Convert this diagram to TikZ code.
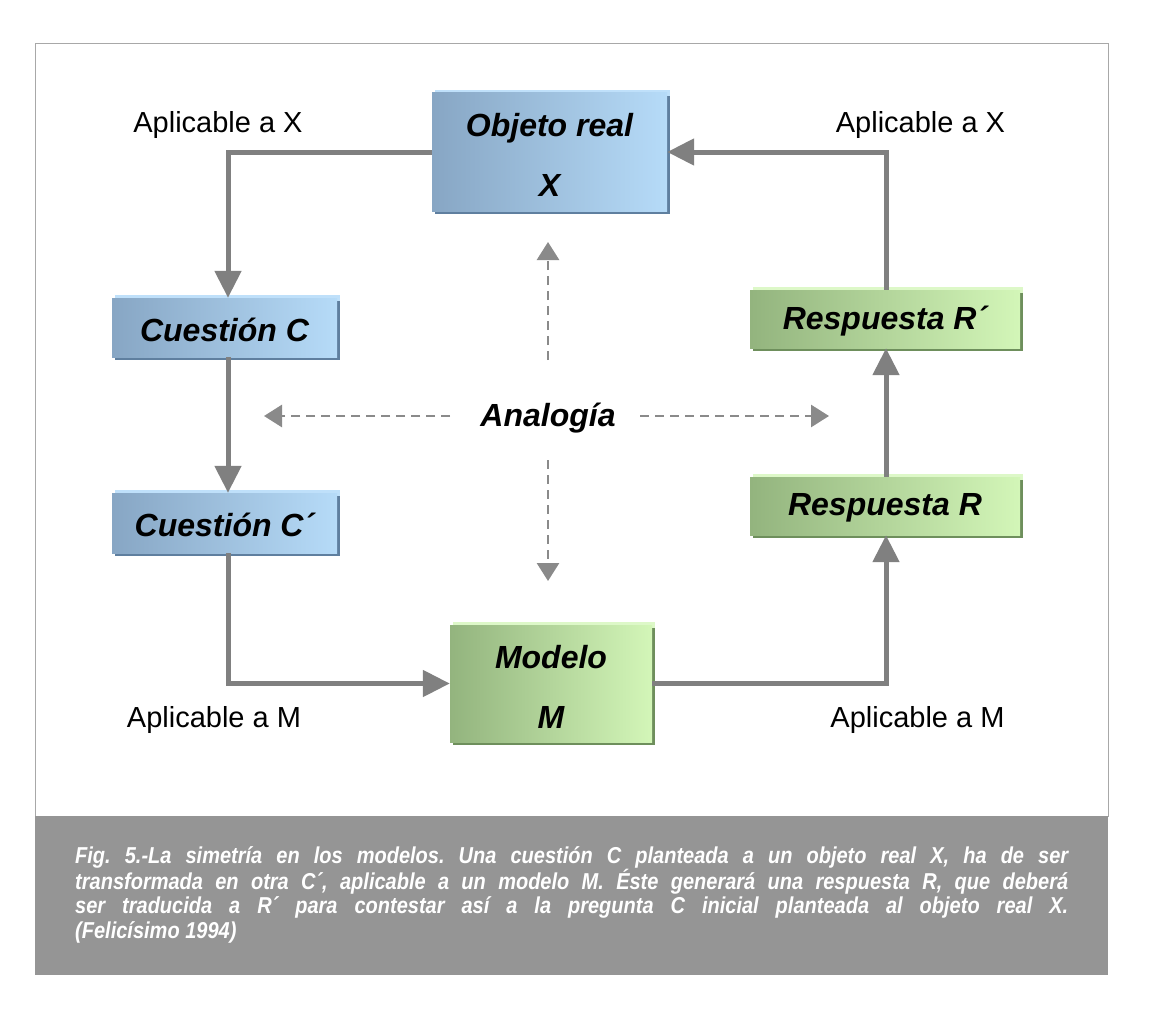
\documentclass[tikz,border=0pt]{standalone}
\usepackage{fontspec}
\setmainfont{Liberation Sans}
\newfontfamily\capfont[FakeStretch=0.87]{Liberation Sans}
\usetikzlibrary{arrows.meta,positioning,calc}
\definecolor{blueL}{HTML}{87A6C4}
\definecolor{blueR}{HTML}{B6DBF8}
\definecolor{blueHi}{HTML}{BFE0FA}
\definecolor{blueSh}{HTML}{5F7F9F}
\definecolor{greenL}{HTML}{93B47E}
\definecolor{greenR}{HTML}{D3F6B8}
\definecolor{greenHi}{HTML}{DDF8C8}
\definecolor{greenSh}{HTML}{6E8F5C}
\definecolor{conncol}{HTML}{808080}
\definecolor{dashcol}{HTML}{8A8A8A}
\definecolor{capcol}{HTML}{959595}
\definecolor{framecol}{HTML}{A8A8A8}
\tikzset{
  boxtext/.style={font=\fontsize{32}{60}\selectfont\bfseries\itshape, align=center, inner sep=0pt},
  bluebox/.style={boxtext, left color=blueL, right color=blueR},
  greenbox/.style={boxtext, left color=greenL, right color=greenR},
  conn/.style={draw=conncol, line width=5pt, -{Triangle[length=27pt,width=26pt]}},
  dconn/.style={draw=dashcol, line width=2.8pt, dash pattern=on 9pt off 6pt, -{Triangle[length=18pt,width=22pt]}},
  lbl/.style={font=\fontsize{29}{34}\selectfont, inner sep=0pt}
}
\newcommand{\bevelbox}[6]{%
  \fill[#5] ({#1-#3/2+3},{#2-#4/2-3}) rectangle ({#1+#3/2+3},{#2+#4/2-3});
  \fill[#6] ({#1-#3/2+3},{#2-#4/2+3}) rectangle ({#1+#3/2+3},{#2+#4/2+3});
}
\begin{document}
\begin{tikzpicture}[x=1pt,y=-1pt]
\useasboundingbox (0,0) rectangle (1156,1014);
\fill[white] (0,0) rectangle (1156,1014);
% frame and caption
\draw[framecol, line width=1pt] (35,44) rectangle (1108,816);
\fill[capcol] (35,816) rectangle (1108,975);
\node[anchor=north west, inner sep=0pt, text width=993pt, align=justify, text=white,
      font=\capfont\fontsize{23}{24.5}\selectfont\bfseries\itshape\frenchspacing] (cap) at (75,846)
  {Fig. 5.-La simetría en los modelos. Una cuestión C planteada a un objeto real X, ha de ser\linebreak
   transformada en otra C´, aplicable a un modelo M. Éste generará una respuesta R, que deberá\linebreak
   ser traducida a R´ para contestar así a la pregunta C inicial planteada al objeto real X.\linebreak
   (Felicísimo 1994)};

% boxes with bevel
\bevelbox{549.5}{152}{235}{118}{blueHi}{blueSh}
\node[bluebox, minimum width=235pt, minimum height=118pt] (OX) at (549.5,152) {};
\node[boxtext] (OXt) at (549.5,155) {Objeto real\\X};
\bevelbox{224.5}{327.5}{225}{59}{blueHi}{blueSh}
\node[bluebox, minimum width=225pt, minimum height=59pt] (CC) at (224.5,327.5) {};
\node[boxtext] (CCt) at (224.5,329.5) {Cuestión C};
\bevelbox{224.5}{523}{225}{60}{blueHi}{blueSh}
\node[bluebox, minimum width=225pt, minimum height=60pt] (CP) at (224.5,523) {};
\node[boxtext] (CPt) at (224.5,525) {Cuestión C´};
\bevelbox{885}{319}{270}{58}{greenHi}{greenSh}
\node[greenbox, minimum width=270pt, minimum height=58pt] (RP) at (885,319) {};
\node[boxtext] (RPt) at (885,321) {Respuesta R´};
\bevelbox{885}{506}{270}{58}{greenHi}{greenSh}
\node[greenbox, minimum width=270pt, minimum height=58pt] (RR) at (885,506) {};
\node[boxtext] (RRt) at (885,508) {Respuesta R};
\bevelbox{551}{683.5}{202}{117}{greenHi}{greenSh}
\node[greenbox, minimum width=202pt, minimum height=117pt] (MM) at (551,683.5) {};
\node[boxtext] (MMt) at (551,687) {Modelo\\M};

% connectors
\draw[conn] (OX.west) -| ([xshift=3.5pt]CC.north);
\draw[conn] ([xshift=3.5pt]CC.south) -- ([xshift=3.5pt]CP.north);
\draw[conn] ([xshift=3.5pt]CP.south) |- (MM.west);
\draw[conn] (MM.east) -| ([xshift=1pt]RR.south);
\draw[conn] ([xshift=1pt]RR.north) -- ([xshift=1pt]RP.south);
\draw[conn] ([xshift=1pt]RP.north) |- (OX.east);

% analogy
\node[boxtext] (AN) at (548,418) {Analogía};
\coordinate (aup) at (548,242);
\coordinate (adown) at (548,581);
\coordinate (aleft) at (264,416);
\coordinate (aright) at (829,416);
\coordinate (sup) at (548,360);
\coordinate (sdown) at (548,460);
\coordinate (sleft) at (450,416);
\coordinate (sright) at (640,416);
\draw[dconn] (sup) -- (aup);
\draw[dconn] (sdown) -- (adown);
\draw[dconn] (sleft) -- (aleft);
\draw[dconn] (sright) -- (aright);

% labels
\node[lbl] (l1) at (218,125) {Aplicable a X};
\node[lbl] (l2) at (920.5,125) {Aplicable a X};
\node[lbl] (l3) at (214,720) {Aplicable a M};
\node[lbl] (l4) at (917.5,720) {Aplicable a M};
\end{tikzpicture}
\end{document}
